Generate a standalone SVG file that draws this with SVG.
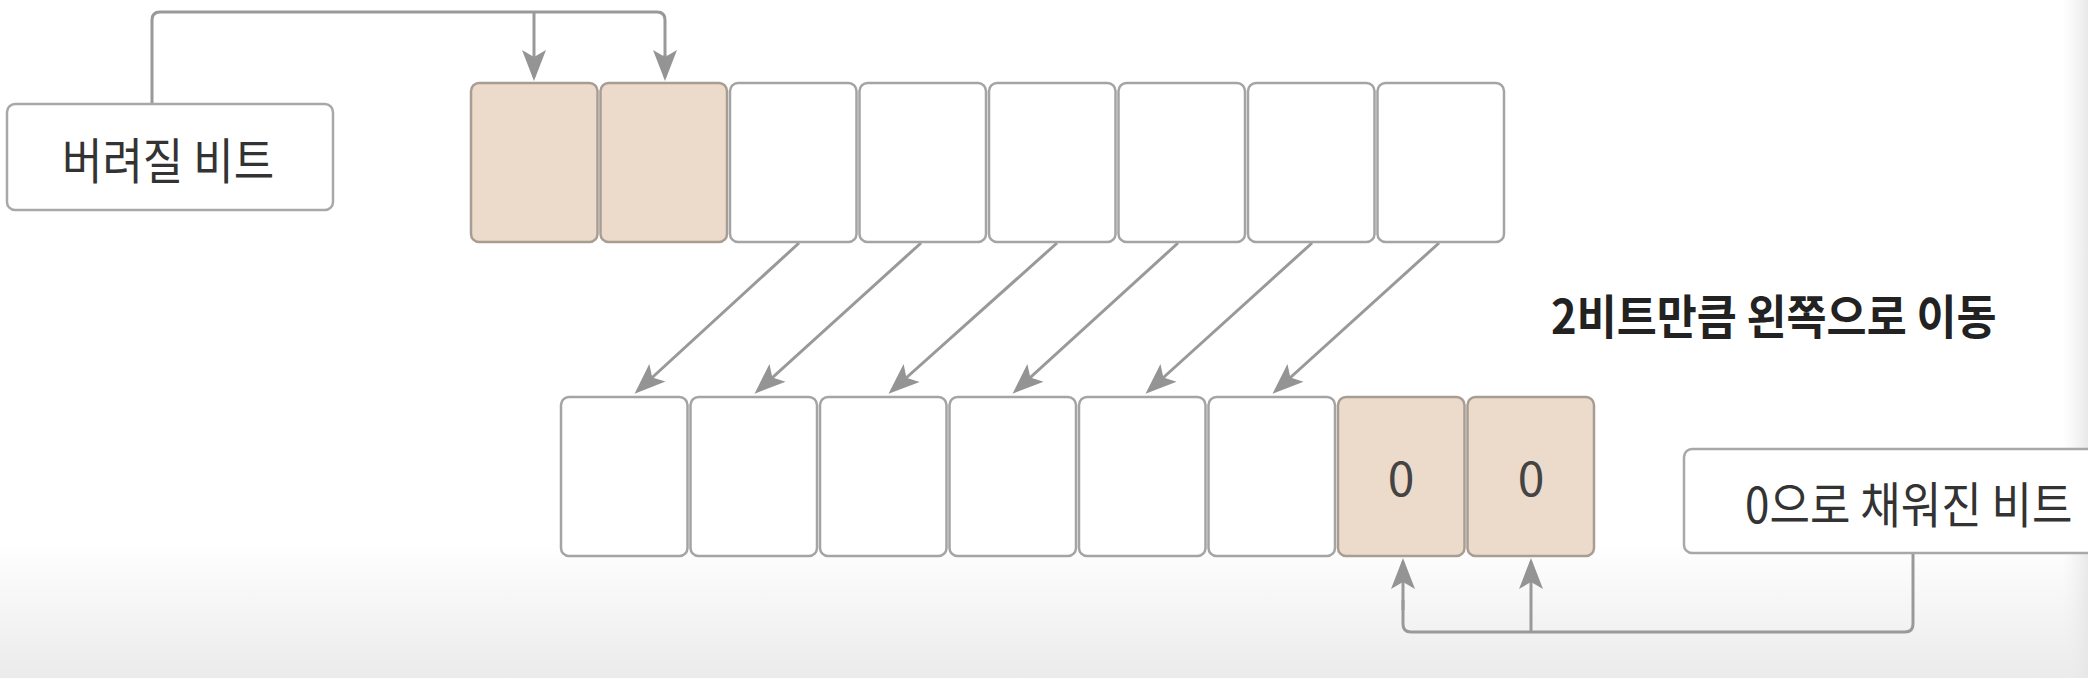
<svg xmlns="http://www.w3.org/2000/svg" width="2088" height="678" viewBox="0 0 2088 678">
  <defs>
    <linearGradient id="bg" x1="0" y1="0" x2="0" y2="1">
      <stop offset="0" stop-color="#ffffff"/>
      <stop offset="0.8" stop-color="#ffffff"/>
      <stop offset="1" stop-color="#ebebeb"/>
    </linearGradient>
    <linearGradient id="edge" x1="0" y1="0" x2="1" y2="0">
      <stop offset="0" stop-color="#f0f0f0" stop-opacity="0"/>
      <stop offset="1" stop-color="#e6e6e6" stop-opacity="0.9"/>
    </linearGradient>
    <marker id="arr" markerUnits="userSpaceOnUse" markerWidth="40" markerHeight="30" viewBox="-30 -15 40 30" refX="0" refY="0" orient="auto">
      <path d="M4,0 L-27,-12 L-20,0 L-27,12 Z" fill="#949494"/>
    </marker>
    <style>
      .cell{fill:#ffffff;stroke:#a4a4a4;stroke-width:2.5}
      .hot{fill:#ecdbca;stroke:#a89d94;stroke-width:2.5}
      .label{fill:#ffffff;stroke:#a8a8a8;stroke-width:2.5}
      .txt{font-family:"Noto Sans CJK KR","Noto Sans",sans-serif;font-size:44px;fill:#333333}
      .bold{font-family:"Noto Sans CJK KR","Noto Sans",sans-serif;font-size:43.5px;font-weight:bold;fill:#222222}
      .zero{font-family:"Noto Sans CJK KR","Noto Sans",sans-serif;font-size:48px;fill:#444444}
      .wire{fill:none;stroke:#999999;stroke-width:3}
      .arrow{fill:none;stroke:#999999;stroke-width:3;marker-end:url(#arr)}
    </style>
  </defs>
  <rect x="0" y="0" width="2088" height="678" fill="url(#bg)"/>
  <rect x="2062" y="0" width="26" height="678" fill="url(#edge)"/>

  <g id="connectors">
    <path class="wire" d="M152,104 V20 Q152,12 160,12 H657 Q665,12 665,20 V60"/>
    <line class="arrow" x1="534" y1="12" x2="534" y2="77"/>
    <line class="arrow" x1="665" y1="55" x2="665" y2="77"/>

    <line class="arrow" x1="799" y1="243" x2="637.5" y2="391"/>
    <line class="arrow" x1="921" y1="243" x2="757.5" y2="391"/>
    <line class="arrow" x1="1057" y1="243" x2="891.5" y2="391"/>
    <line class="arrow" x1="1178" y1="243" x2="1015.5" y2="391"/>
    <line class="arrow" x1="1312" y1="243" x2="1148.5" y2="391"/>
    <line class="arrow" x1="1439" y1="243" x2="1275.5" y2="391"/>

    <path class="wire" d="M1913,553 V624 Q1913,632 1905,632 H1411 Q1403,632 1403,624 V600"/>
    <line class="arrow" x1="1403" y1="610" x2="1403" y2="562"/>
    <line class="arrow" x1="1531" y1="632" x2="1531" y2="562"/>
  </g>

  <g id="label-discard">
    <rect class="label" x="7" y="104" width="326" height="106" rx="8"/>
    <text class="txt" transform="translate(168,157) scale(1,1.12)" x="0" y="0" text-anchor="middle" dominant-baseline="central">버려질 비트</text>
  </g>

  <g id="top-row">
    <rect class="hot" x="471" y="83" width="126.5" height="159" rx="8"/>
    <rect class="hot" x="600.5" y="83" width="126.5" height="159" rx="8"/>
    <rect class="cell" x="730" y="83" width="126.5" height="159" rx="8"/>
    <rect class="cell" x="859.5" y="83" width="126.5" height="159" rx="8"/>
    <rect class="cell" x="989" y="83" width="126.5" height="159" rx="8"/>
    <rect class="cell" x="1118.5" y="83" width="126.5" height="159" rx="8"/>
    <rect class="cell" x="1248" y="83" width="126.5" height="159" rx="8"/>
    <rect class="cell" x="1377.5" y="83" width="126.5" height="159" rx="8"/>
  </g>

  <g id="shift-label">
    <text class="bold" transform="translate(1551,313) scale(1,1.08)" x="0" y="0" dominant-baseline="central">2비트만큼 왼쪽으로 이동</text>
  </g>

  <g id="bottom-row">
    <rect class="cell" x="561" y="397" width="126.5" height="159" rx="8"/>
    <rect class="cell" x="690.5" y="397" width="126.5" height="159" rx="8"/>
    <rect class="cell" x="820" y="397" width="126.5" height="159" rx="8"/>
    <rect class="cell" x="949.5" y="397" width="126.5" height="159" rx="8"/>
    <rect class="cell" x="1079" y="397" width="126.5" height="159" rx="8"/>
    <rect class="cell" x="1208.5" y="397" width="126.5" height="159" rx="8"/>
    <rect class="hot" x="1338" y="397" width="126.5" height="159" rx="8"/>
    <rect class="hot" x="1467.5" y="397" width="126.5" height="159" rx="8"/>
    <text class="zero" x="1401" y="475" text-anchor="middle" dominant-baseline="central">0</text>
    <text class="zero" x="1531" y="475" text-anchor="middle" dominant-baseline="central">0</text>
  </g>

  <g id="label-filled">
    <rect class="label" x="1684" y="449" width="460" height="104" rx="8"/>
    <text class="txt" transform="translate(1745,501) scale(1,1.12)" x="0" y="0" dominant-baseline="central">0으로 채워진 비트</text>
  </g>
</svg>
